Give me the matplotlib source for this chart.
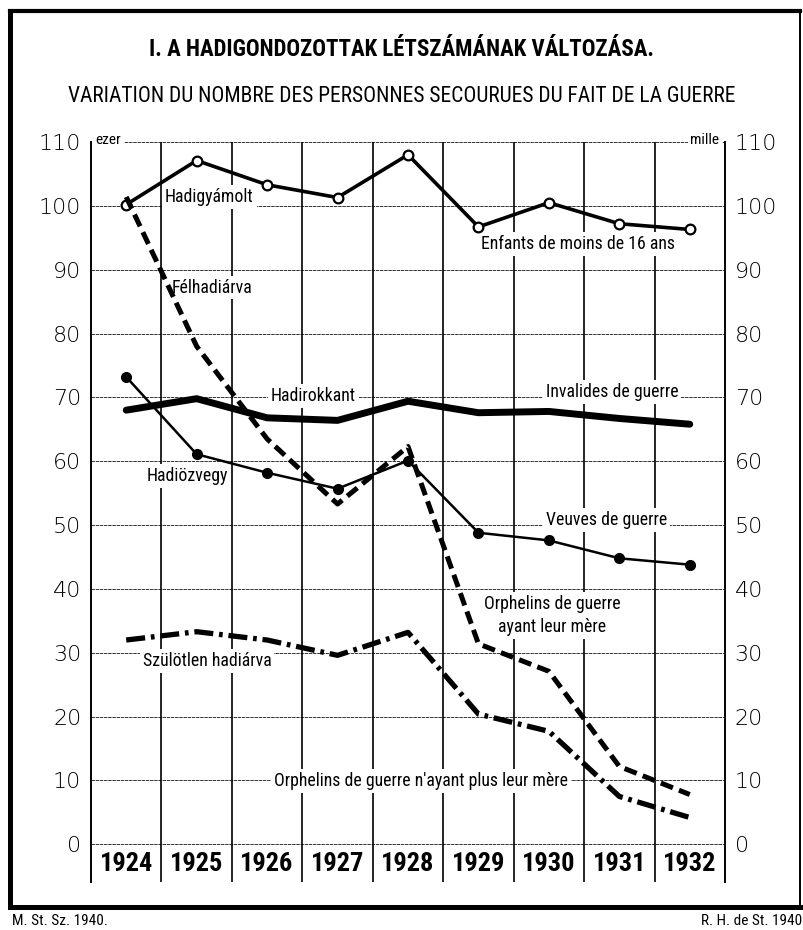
import matplotlib
matplotlib.use("Agg")
import matplotlib.pyplot as plt
from matplotlib import font_manager as fm
from matplotlib.lines import Line2D

# ---------------- data ----------------
years = ['1924', '1925', '1926', '1927', '1928', '1929', '1930', '1931', '1932']
hadigyamolt = [100.2, 107.1, 103.3, 101.3, 108.0, 96.7, 100.5, 97.2, 96.3]
felhadiarva = [101.4, 78.0, 63.5, 53.3, 62.3, 31.4, 27.1, 12.2, 7.8]
hadirokkant = [68.0, 69.8, 66.8, 66.4, 69.4, 67.6, 67.8, 66.7, 65.8]
hadiozvegy = [73.2, 61.1, 58.2, 55.7, 60.1, 48.8, 47.6, 44.8, 43.8]
szulotlen = [32.0, 33.3, 32.0, 29.6, 33.2, 20.4, 17.7, 7.5, 4.2]
yticks = list(range(0, 111, 10))

# ---------------- fonts ----------------
names = {f.name for f in fm.fontManager.ttflist}
cond_family = None
cond_stretch = 'normal'
for cand in ['Liberation Sans Narrow', 'Roboto Condensed', 'Open Sans Condensed', 'Noto Sans Condensed']:
    if cand in names:
        cond_family = cand
        break
if cond_family is None:
    if any(f.name == 'DejaVu Sans' and f.stretch in ('condensed', 'semi-condensed') for f in fm.fontManager.ttflist):
        cond_family = 'DejaVu Sans'
        cond_stretch = 'condensed'
    else:
        cond_family = 'Liberation Sans'

def cf(size, weight='normal'):
    return dict(family=cond_family, stretch=cond_stretch, fontsize=size, fontweight=weight)

fig = plt.figure(figsize=(8.04, 9.30), dpi=100)
W, H = 804, 930

ymin = -5.9
ax = fig.add_axes([91 / W, 1 - 882 / H, (725 - 91) / W, (882 - 142) / H])
x = list(range(len(years)))
ax.set_xlim(-0.5, len(years) - 0.5)
ax.set_ylim(ymin, 110)

# grid
for v in yticks:
    ax.plot([-0.5, len(years) - 0.5], [v, v], color='#333333', lw=0.7,
            dashes=(3.5, 0.8), zorder=1)
for i in range(1, len(years)):
    ax.plot([i - 0.5, i - 0.5], [ymin, 110], color='black', lw=1.2, zorder=1)

for s in ['top', 'bottom']:
    ax.spines[s].set_visible(False)
for s in ['left', 'right']:
    ax.spines[s].set_linewidth(1.4)
ax.set_xticks([])
ax.set_yticks(yticks)
ax.set_yticklabels([str(v) for v in yticks])
ax.tick_params(axis='y', length=0, labelsize=16, left=False, right=False,
               labelleft=True, labelright=True)
ax.tick_params(axis='y', which='both', pad=7)
for lab in ax.get_yticklabels():
    lab.set_fontweight('light')
    lab.set_family('DejaVu Sans')

# year row
for i, yr in enumerate(years):
    ax.text(i, ymin / 2 - 0.2, yr, ha='center', va='center', **cf(19, 'bold'))

# series
ax.plot(x, hadigyamolt, color='black', lw=2.6, marker='o', markersize=7,
        markerfacecolor='white', markeredgecolor='black', markeredgewidth=1.6, zorder=5)
ax.plot(x, felhadiarva, color='black', lw=3.6, dashes=(2.6, 1.3), zorder=5)
ax.plot(x, hadirokkant, color='black', lw=5.0, solid_capstyle='round', zorder=5)
ax.plot(x, hadiozvegy, color='black', lw=1.8, marker='o', markersize=7,
        markerfacecolor='black', zorder=5)
ax.plot(x, szulotlen, color='black', lw=3.8, dashes=(3.6, 1.1, 0.7, 1.1), zorder=5)

bb = dict(facecolor='white', edgecolor='none', pad=2)
labels = [
    ('Hadigyámolt', 1.18, 101.4, 'center'),
    ('Enfants de moins de 16 ans', 6.42, 94.0, 'center'),
    ('Félhadiárva', 1.22, 87.2, 'center'),
    ('Hadirokkant', 2.66, 70.2, 'center'),
    ('Invalides de guerre', 6.9, 70.8, 'center'),
    ('Hadiözvegy', 0.87, 57.7, 'center'),
    ('Veuves de guerre', 6.82, 50.8, 'center'),
    ('Orphelins de guerre\nayant leur mère', 6.05, 35.8, 'center'),
    ('Szülötlen hadiárva', 1.15, 28.7, 'center'),
    ("Orphelins de guerre n'ayant plus leur mère", 4.18, 9.9, 'center'),
]
for txt, lx, ly, ha in labels:
    ax.text(lx, ly, txt, ha=ha, va='center', zorder=3, bbox=bb,
            linespacing=1.35, **cf(12.8))
ax.text(-0.44, 110.3, 'ezer', ha='left', va='center', zorder=3,
        bbox=dict(facecolor='white', edgecolor='none', pad=2), **cf(11))
ax.text(8.42, 110.3, 'mille', ha='right', va='center', zorder=3,
        bbox=dict(facecolor='white', edgecolor='none', pad=2), **cf(11))

# titles
fig.text(0.5, 1 - 50 / H, 'I. A HADIGONDOZOTTAK LÉTSZÁMÁNAK VÁLTOZÁSA.',
         ha='center', va='center', **cf(16.5, 'bold'))
fig.text(0.5, 1 - 96 / H, 'VARIATION DU NOMBRE DES PERSONNES SECOURUES DU FAIT DE LA GUERRE',
         ha='center', va='center', **cf(15.5))

# frame
def fl(x0, y0, x1, y1, lw):
    fig.add_artist(Line2D([x0 / W, x1 / W], [1 - y0 / H, 1 - y1 / H],
                          color='black', lw=lw, transform=fig.transFigure,
                          solid_capstyle='projecting'))
fl(10, 11, 800, 11, 3.0)
fl(10, 11, 10, 907, 3.6)
fl(10, 907, 800, 907, 3.6)
fl(800, 11, 800, 907, 1.4)

fig.text(12 / W, 1 - 921 / H, 'M. St. Sz. 1940.', ha='left', va='center', **cf(11))
fig.text(802 / W, 1 - 921 / H, 'R. H. de St. 1940', ha='right', va='center', **cf(11))

fig.savefig('out.png', dpi=100, facecolor='white')
